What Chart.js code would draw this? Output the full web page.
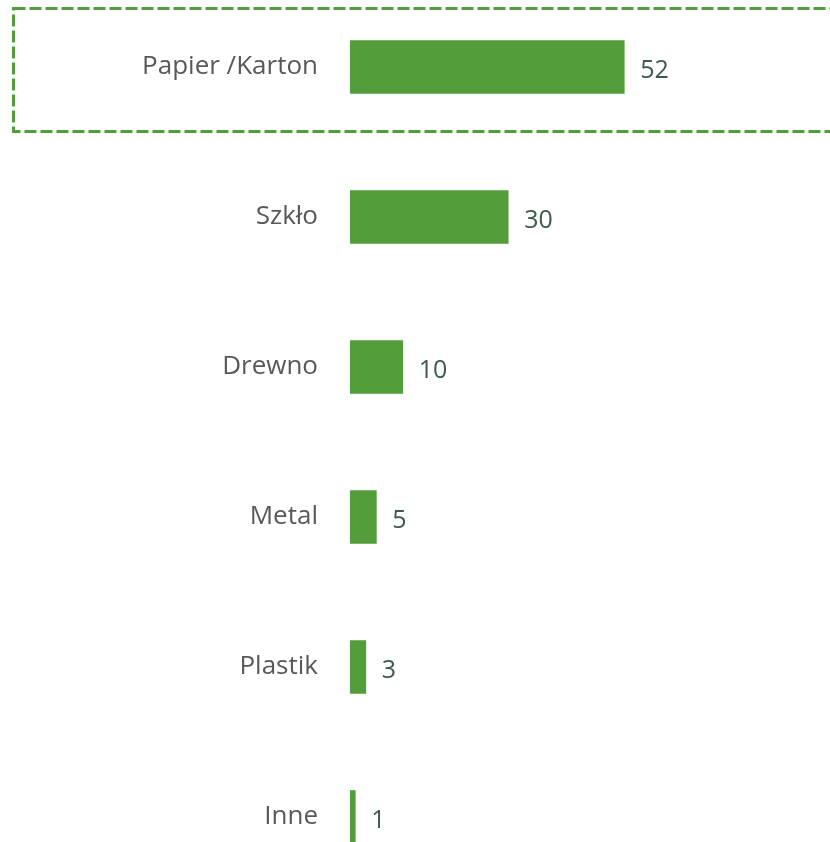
<!DOCTYPE html>
<html>
<head>
<meta charset="utf-8">
<script src="https://cdn.jsdelivr.net/npm/chart.js@4.4.0/dist/chart.umd.min.js"></script>
<style>
  html, body { margin: 0; padding: 0; background: #fff; overflow: hidden; }
  #chart { display: block; margin-top: -8px; }
</style>
</head>
<body>
<canvas id="chart" width="830" height="900"></canvas>
<script>
// data
const categories = ['Papier /Karton', 'Szkło', 'Drewno', 'Metal', 'Plastik', 'Inne'];
const values = [52, 30, 10, 5, 3, 1];
const xMax = 91;

const barColor = '#539d3a';

// value next to each bar
const valueLabels = {
    id: 'valueLabels',
    afterDatasetsDraw(chart) {
        const ctx = chart.ctx;
        const meta = chart.getDatasetMeta(0);
        ctx.save();
        ctx.font = '25px "Open Sans", sans-serif';
        ctx.fillStyle = '#3d5a4b';
        ctx.textAlign = 'left';
        ctx.textBaseline = 'middle';
        meta.data.forEach((bar, i) => {
            ctx.fillText(String(values[i]), bar.x + 16, bar.y + 4);
        });
        ctx.restore();
    }
};

// dashed highlight round the first row
const highlightBox = {
    id: 'highlightBox',
    afterDraw(chart) {
        const ctx = chart.ctx;
        const y = chart.scales.y.getPixelForValue(0);
        ctx.save();
        ctx.strokeStyle = barColor;
        ctx.lineWidth = 3;
        ctx.setLineDash([12, 4]);
        ctx.strokeRect(13.5, y - 58.5, 830, 123);
        ctx.restore();
    }
};

new Chart(document.getElementById('chart'), {
    type: 'bar',
    data: {
        labels: categories,
        datasets: [{
            data: values,
            backgroundColor: barColor,
            barThickness: 53
        }]
    },
    options: {
        indexAxis: 'y',
        responsive: false,
        animation: false,
        layout: { padding: 0 },
        plugins: {
            legend: { display: false },
            tooltip: { enabled: false }
        },
        scales: {
            x: {
                display: false,
                min: 0,
                max: xMax
            },
            y: {
                grid: { display: false, drawTicks: false },
                border: { display: false },
                ticks: {
                    padding: 32,
                    color: '#595959',
                    font: { family: '"Open Sans", sans-serif', size: 26 }
                },
                afterFit(scale) {
                    scale.width = 350;
                    // no extra room above/below for the labels
                    scale.paddingTop = 0;
                    scale.paddingBottom = 0;
                }
            }
        }
    },
    plugins: [valueLabels, highlightBox]
});
</script>
</body>
</html>
